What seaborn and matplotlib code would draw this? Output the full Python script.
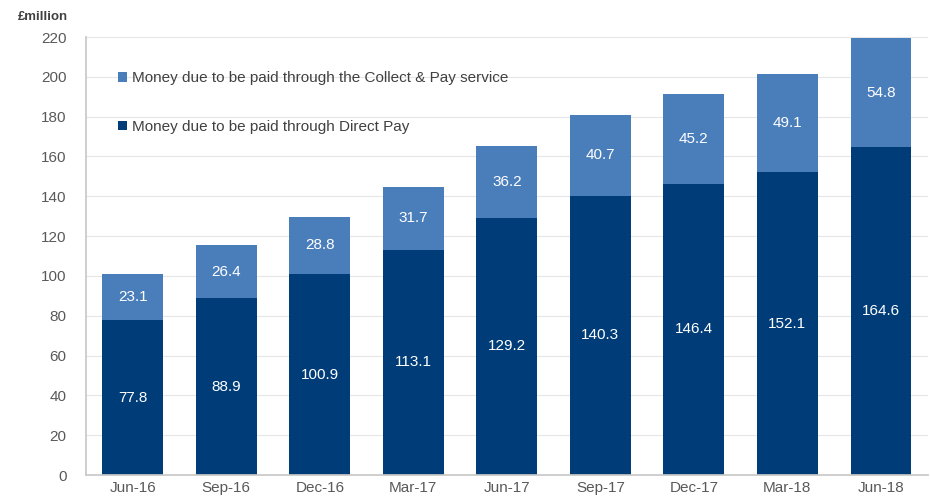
import matplotlib
matplotlib.use("Agg")
import matplotlib.pyplot as plt
import seaborn as sns
import pandas as pd
from matplotlib.patches import Patch

categories = ["Jun-16", "Sep-16", "Dec-16", "Mar-17", "Jun-17", "Sep-17", "Dec-17", "Mar-18", "Jun-18"]
direct_pay = [77.8, 88.9, 100.9, 113.1, 129.2, 140.3, 146.4, 152.1, 164.6]
collect_pay = [23.1, 26.4, 28.8, 31.7, 36.2, 40.7, 45.2, 49.1, 54.8]
series_names = ["Money due to be paid through the Collect & Pay service",
                "Money due to be paid through Direct Pay"]

sns.set_theme(style="white")
plt.rcParams['font.family'] = ['Liberation Sans', 'DejaVu Sans']

dark = "#003d78"
light = "#4a7ebb"

df = pd.DataFrame({"cat": categories, "direct": direct_pay, "collect": collect_pay})

fig = plt.figure(figsize=(9.3, 4.96), dpi=100)
ax = fig.add_axes([0.0925, 0.0423, 0.905, 0.883])

sns.barplot(data=df, x="cat", y="direct", color=dark, saturation=1, width=0.65, ax=ax, linewidth=0)
sns.barplot(data=df, x="cat", y="collect", color=light, saturation=1, width=0.65, ax=ax,
            bottom=df["direct"], linewidth=0)

for cont in ax.containers:
    ax.bar_label(cont, labels=[f"{v:.1f}" for v in cont.datavalues], label_type="center",
                 color="white", fontsize=11)

ax.set_ylim(0, 220)
ax.set_yticks(range(0, 221, 20))
ax.set_xlim(-0.5, len(categories) - 0.5)
ax.set_xlabel("")
ax.set_ylabel("")
ax.grid(axis="y", color="#e6e6e6", linewidth=0.8)
ax.set_axisbelow(True)
for s in ["top", "right"]:
    ax.spines[s].set_visible(False)
ax.spines["left"].set_color("#c8c8c8")
ax.spines["bottom"].set_color("#c8c8c8")
ax.tick_params(axis="both", colors="#595959", labelsize=11, length=0)
ax.tick_params(axis="x", pad=4)
ax.tick_params(axis="y", pad=14)

handles = [Patch(facecolor=light, edgecolor="none"), Patch(facecolor=dark, edgecolor="none")]
leg = ax.legend(handles, series_names, loc="upper left", bbox_to_anchor=(0.022, 0.953),
                frameon=False, fontsize=11, handlelength=0.6, handleheight=0.6,
                handletextpad=0.3, labelspacing=2.25, labelcolor="#404040")

fig.text(0.019, 0.965, "£million", fontsize=9.5, fontweight="bold", color="#404040", va="center")

fig.savefig("out.png", dpi=100)
